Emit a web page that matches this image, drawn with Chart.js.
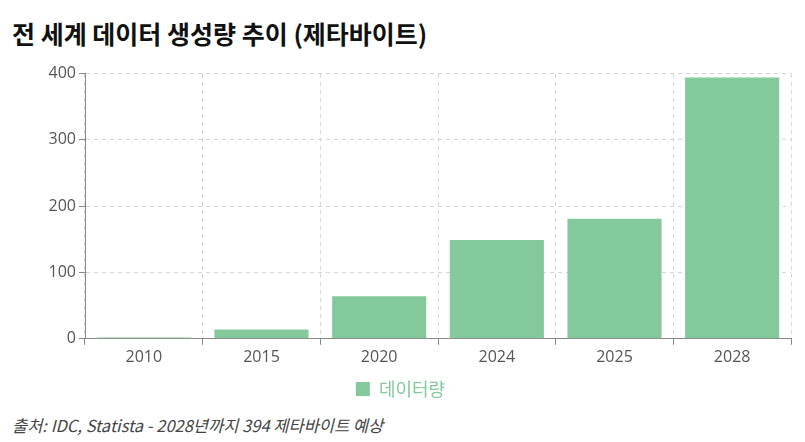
<!DOCTYPE html>
<html><head><meta charset="utf-8">
<script src="https://cdn.jsdelivr.net/npm/chart.js@4"></script>
<style>
html,body{margin:0;padding:0;background:#fff;width:805px;height:442px;overflow:hidden;font-family:"Noto Sans CJK KR","Noto Sans",sans-serif;}
#title{position:absolute;left:12px;top:15px;font-size:25px;font-weight:bold;color:#111;white-space:nowrap;}
#wrap{position:absolute;left:0;top:61px;width:805px;height:347px;}
#foot{position:absolute;left:12px;top:413px;font-size:16.5px;font-style:italic;color:#444;white-space:nowrap;}
</style></head>
<body>
<div id="title">전 세계 데이터 생성량 추이 (제타바이트)</div>
<div id="wrap"><canvas id="c"></canvas></div>
<div id="foot">출처: IDC, Statista - 2028년까지 394 제타바이트 예상</div>
<script>
const years = ['2010','2015','2020','2024','2025','2028'];
const dataVolume = [2, 14, 64, 149, 181, 394];
const seriesName = '데이터량';
const barColor = 'rgb(132,201,156)';
const tickFont = {family:'"Open Sans","Noto Sans CJK KR",sans-serif', size:16};
new Chart(document.getElementById('c'), {
  type:'bar',
  data:{labels:years, datasets:[{label:seriesName, data:dataVolume, backgroundColor:barColor, borderWidth:0, categoryPercentage:0.8, barPercentage:1.0}]},
  options:{
    responsive:true, maintainAspectRatio:false, animation:false,
    layout:{padding:{top:7,right:14,left:10,bottom:0}},
    plugins:{
      legend:{position:'bottom', labels:{color:barColor, font:{family:'"Noto Sans CJK KR",sans-serif',size:18}, boxWidth:14, boxHeight:14, padding:10}},
      tooltip:{enabled:false}
    },
    scales:{
      x:{grid:{color:'#d4d4d4', tickColor:'#888', tickLength:6, drawOnChartArea:true}, border:{color:'#888', dash:[4,4]}, ticks:{color:'#555', font:tickFont}},
      y:{min:0, max:400, afterFit:(s)=>{s.width=75;}, grid:{color:'#d4d4d4', tickColor:'#888', tickLength:6}, border:{color:'#888', dash:[4,4]}, ticks:{color:'#555', font:tickFont, stepSize:100}}
    }
  }
});
</script>
</body></html>
